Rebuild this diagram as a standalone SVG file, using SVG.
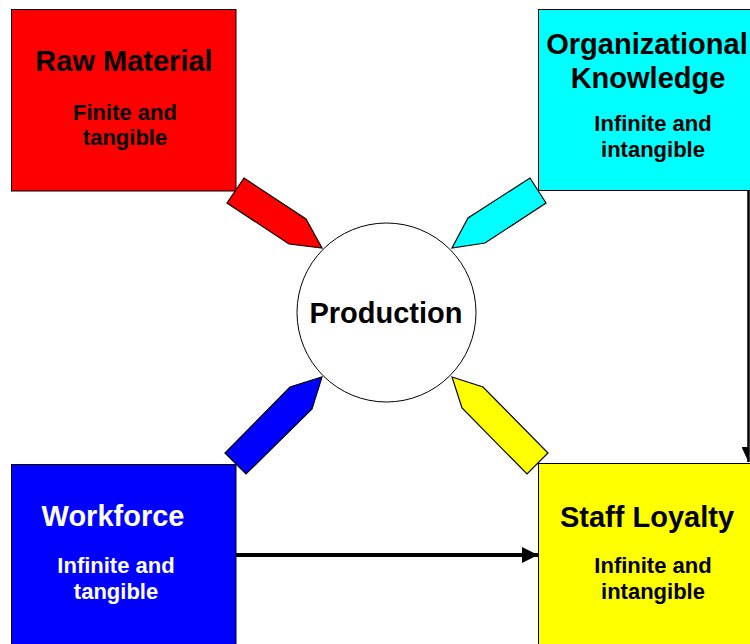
<svg xmlns="http://www.w3.org/2000/svg" width="750" height="644" viewBox="0 0 750 644">
  <style>
    .box { stroke: #000; stroke-width: 1; }
    .feed { stroke: #000; stroke-width: 1.2; stroke-linejoin: miter; }
    .title { font-family: "Liberation Sans", Arial, sans-serif; font-weight: bold; font-size: 29px; text-anchor: middle; }
    .sub { font-family: "Liberation Sans", Arial, sans-serif; font-weight: bold; font-size: 22px; text-anchor: middle; }
    .dark { fill: #000; }
    .light { fill: #fff; }
  </style>
  <defs>
    <marker id="headBig" markerUnits="userSpaceOnUse" markerWidth="17" markerHeight="17" refX="16" refY="8" orient="auto">
      <path d="M0,0 L16,8 L0,16 Z" fill="#000"/>
    </marker>
    <marker id="headSmall" markerUnits="userSpaceOnUse" markerWidth="9" markerHeight="16" refX="7" refY="15" orient="0">
      <path d="M0,0 L7,0 L7,15 Z" fill="#000"/>
    </marker>
  </defs>

  <rect width="750" height="644" fill="#fff"/>

  <g id="raw-material">
    <rect class="box" x="11.5" y="9.5" width="224.5" height="181.5" fill="#ff0000"/>
    <text class="title dark" x="124" y="71">Raw Material</text>
    <text class="sub dark" x="125" y="120">Finite and</text>
    <text class="sub dark" x="125" y="145">tangible</text>
  </g>

  <g id="organizational-knowledge">
    <rect class="box" x="538.5" y="9.5" width="220" height="181" fill="#00ffff"/>
    <text class="title dark" x="647" y="54">Organizational</text>
    <text class="title dark" x="648" y="88">Knowledge</text>
    <text class="sub dark" x="653" y="131">Infinite and</text>
    <text class="sub dark" x="653" y="157">intangible</text>
  </g>

  <g id="workforce">
    <rect class="box" x="11.5" y="464.5" width="224.5" height="190" fill="#0000ff"/>
    <text class="title light" x="113" y="526">Workforce</text>
    <text class="sub light" x="116" y="573">Infinite and</text>
    <text class="sub light" x="116" y="599">tangible</text>
  </g>

  <g id="staff-loyalty">
    <rect class="box" x="538.5" y="463.5" width="220" height="190" fill="#ffff00"/>
    <text class="title dark" x="647" y="527">Staff Loyalty</text>
    <text class="sub dark" x="653" y="573">Infinite and</text>
    <text class="sub dark" x="653" y="599">intangible</text>
  </g>

  <g id="production">
    <circle cx="386.5" cy="312.5" r="89.5" fill="#fff" stroke="#000" stroke-width="1"/>
    <text class="title dark" x="386" y="323">Production</text>
  </g>

  <g id="connectors">
    <!-- block arrows feeding production -->
    <polygon class="feed" fill="#ff0000" points="244,178 306,219 322,248 289,244 227,203"/>
    <polygon class="feed" fill="#00ffff" points="530,178 546,203 485,243 452,248 468,218"/>
    <polygon class="feed" fill="#0000ff" points="225,453 246,474 312,409 322,377 290,387"/>
    <polygon class="feed" fill="#ffff00" points="452,377 483,387 548,453 527,474 462,408"/>
    <!-- workforce to staff loyalty -->
    <line x1="236" y1="555" x2="538" y2="555" stroke="#000" stroke-width="4" marker-end="url(#headBig)"/>
    <!-- organizational knowledge to staff loyalty -->
    <line x1="748.5" y1="191" x2="748.5" y2="462" stroke="#000" stroke-width="2.5" marker-end="url(#headSmall)"/>
  </g>
</svg>
